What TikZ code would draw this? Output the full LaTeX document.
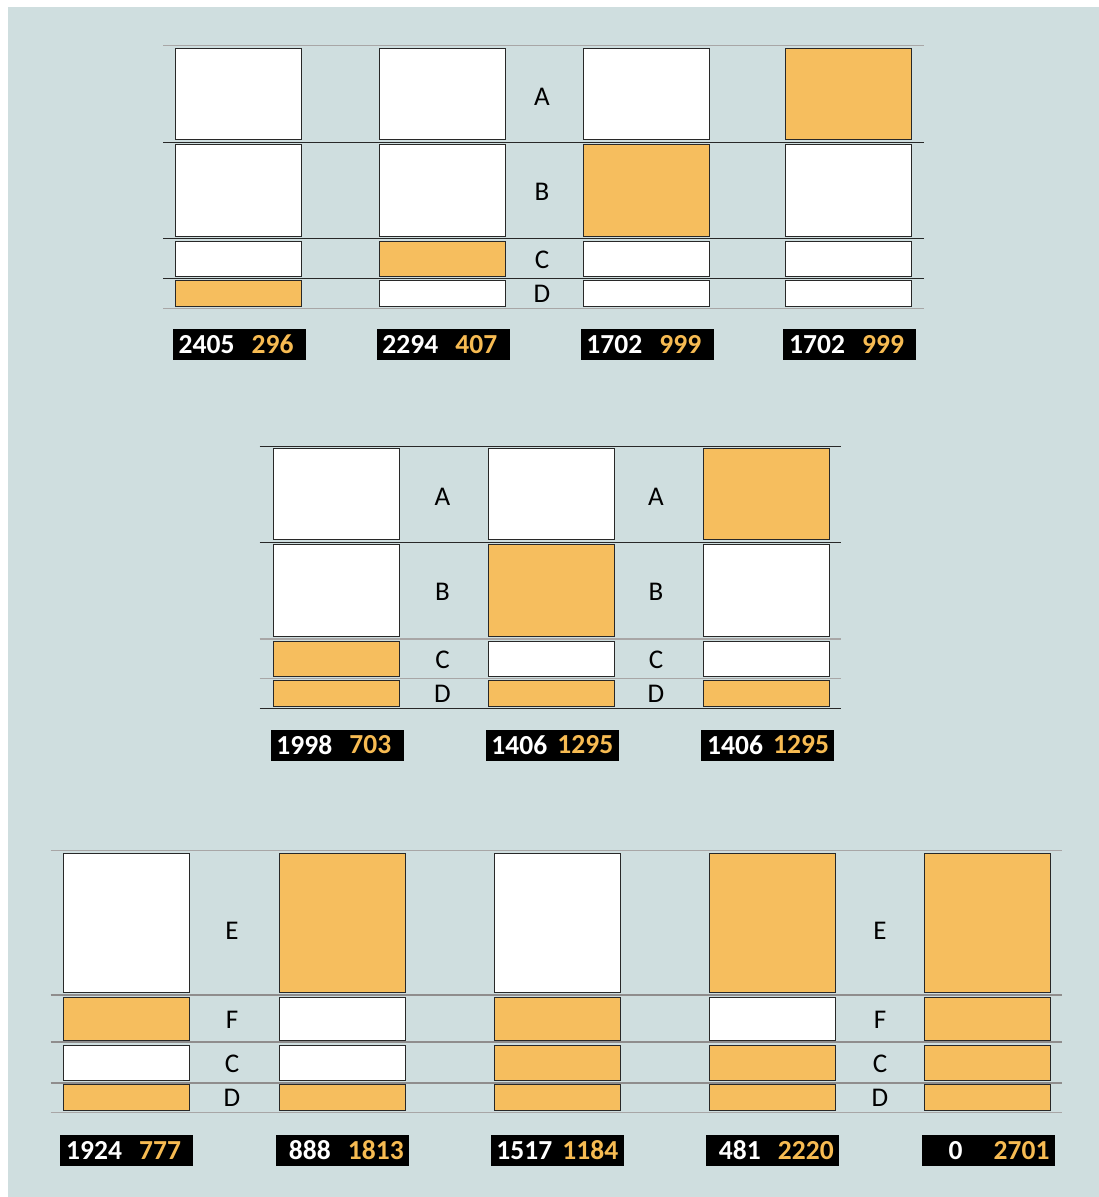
\documentclass[tikz,border=0pt]{standalone}
\usepackage{fontspec}
\setmainfont{Carlito}
\usepackage{tikz}
\usetikzlibrary{positioning}
\definecolor{panel}{RGB}{207, 222, 223}
\definecolor{amber}{RGB}{246, 190, 94}
\definecolor{ambertext}{RGB}{247, 187, 82}
\definecolor{edge}{RGB}{40, 40, 40}
\definecolor{rulegray}{RGB}{168, 166, 166}

\begin{document}
\begin{tikzpicture}[x=1pt, y=-1pt,
  cell/.style={rectangle, draw=edge, line width=1pt,
    minimum width=126pt, inner sep=0pt},
  wcell/.style={cell, fill=white},
  ocell/.style={cell, fill=amber},
  rowA/.style={minimum height=91pt},
  rowB/.style={minimum height=92pt},
  rowC/.style={minimum height=35pt},
  rowD/.style={minimum height=25.8pt},
  rowE/.style={minimum height=139pt},
  rowF/.style={minimum height=43pt},
  tag/.style={font=\fontsize{27pt}{29pt}\selectfont, inner sep=0pt},
  tally/.style={rectangle, fill=black, minimum width=133pt,
    minimum height=31pt, inner sep=0pt},
  wnum/.style={font=\fontsize{27.5pt}{29pt}\selectfont\bfseries,
    text=white, inner sep=0pt},
  onum/.style={wnum, text=ambertext},
  darkrule/.style={draw=edge, line width=1pt},
  greyrule/.style={draw=rulegray, line width=1.3pt},
  thickrule/.style={draw=rulegray!85!black, line width=1.8pt}
]
\useasboundingbox (0,0) rectangle (1099,1197);
\fill[white] (0,0) rectangle (1099,1197);
\fill[panel] (8,7) rectangle (1099,1197);

% top panel
\draw[greyrule] (163,45.7) -- (924,45.7);
\draw[darkrule] (163,142.7) -- (924,142.7);
\draw[darkrule] (163,238.7) -- (924,238.7);
\draw[darkrule] (163,278.3) -- (924,278.3);
\draw[greyrule] (163,308.3) -- (924,308.3);

\node[wcell, rowA] at (238.5, 94)    (t1a) {};
\node[wcell, rowB] at (238.5, 190.5) (t1b) {};
\node[wcell, rowC] at (238.5, 258.7) (t1c) {};
\node[ocell, rowD] at (238.5, 293.3) (t1d) {};
\node[wcell, rowA] at (442.8, 94)    (t2a) {};
\node[wcell, rowB] at (442.8, 190.5) (t2b) {};
\node[ocell, rowC] at (442.8, 258.7) (t2c) {};
\node[wcell, rowD] at (442.8, 293.3) (t2d) {};
\node[wcell, rowA] at (646, 94)      (t3a) {};
\node[ocell, rowB] at (646, 190.5)   (t3b) {};
\node[wcell, rowC] at (646, 258.7)   (t3c) {};
\node[wcell, rowD] at (646, 293.3)   (t3d) {};
\node[ocell, rowA] at (848.8, 94)    (t4a) {};
\node[wcell, rowB] at (848.8, 190.5) (t4b) {};
\node[wcell, rowC] at (848.8, 258.7) (t4c) {};
\node[wcell, rowD] at (848.8, 293.3) (t4d) {};

\node[tag] at (542, 97)    (tla) {A};
\node[tag] at (542, 191.5) (tlb) {B};
\node[tag] at (542, 260)   (tlc) {C};
\node[tag] at (542, 293.5) (tld) {D};

\node[tally] at (239.3, 344.5) (t1n) {};
\node[wnum] at ([xshift=34pt]t1n.west)  (t1w) {2405};
\node[onum] at ([xshift=100pt]t1n.west) (t1o) {296};
\node[tally] at (443, 344.5) (t2n) {};
\node[wnum] at ([xshift=34pt]t2n.west)  (t2w) {2294};
\node[onum] at ([xshift=100pt]t2n.west) (t2o) {407};
\node[tally] at (647, 344.5) (t3n) {};
\node[wnum] at ([xshift=34pt]t3n.west)  (t3w) {1702};
\node[onum] at ([xshift=100pt]t3n.west) (t3o) {999};
\node[tally] at (849.8, 344.5) (t4n) {};
\node[wnum] at ([xshift=34pt]t4n.west)  (t4w) {1702};
\node[onum] at ([xshift=100pt]t4n.west) (t4o) {999};

% middle panel
\draw[darkrule] (259.6,446) -- (841,446);
\draw[darkrule] (259.6,542.7) -- (841,542.7);
\draw[greyrule] (259.6,639) -- (841,639);
\draw[greyrule] (259.6,678.7) -- (841,678.7);
\draw[darkrule] (259.6,708.3) -- (841,708.3);

\node[wcell, rowA] at (336, 494)   (m1a) {};
\node[wcell, rowB] at (336, 590.5) (m1b) {};
\node[ocell, rowC] at (336, 658.7) (m1c) {};
\node[ocell, rowD] at (336, 693.3) (m1d) {};
\node[wcell, rowA] at (551.5, 494)   (m2a) {};
\node[ocell, rowB] at (551.5, 590.5) (m2b) {};
\node[wcell, rowC] at (551.5, 658.7) (m2c) {};
\node[ocell, rowD] at (551.5, 693.3) (m2d) {};
\node[ocell, rowA] at (766.3, 494)   (m3a) {};
\node[wcell, rowB] at (766.3, 590.5) (m3b) {};
\node[wcell, rowC] at (766.3, 658.7) (m3c) {};
\node[ocell, rowD] at (766.3, 693.3) (m3d) {};

\node[tag] at (442.5, 497)   (mla) {A};
\node[tag] at (442.5, 591.7) (mlb) {B};
\node[tag] at (442.5, 660)   (mlc) {C};
\node[tag] at (442.5, 694)   (mld) {D};
\node[tag] at (656, 497)     (mra) {A};
\node[tag] at (656, 591.7)   (mrb) {B};
\node[tag] at (656, 660)     (mrc) {C};
\node[tag] at (656, 694)     (mrd) {D};

\node[tally] at (337, 745) (m1n) {};
\node[wnum] at ([xshift=34pt]m1n.west)  (m1w) {1998};
\node[onum] at ([xshift=100pt]m1n.west) (m1o) {703};
\node[tally] at (552, 745) (m2n) {};
\node[wnum] at ([xshift=34pt]m2n.west)  (m2w) {1406};
\node[onum] at ([xshift=100pt]m2n.west) (m2o) {1295};
\node[tally] at (767.8, 745) (m3n) {};
\node[wnum] at ([xshift=34pt]m3n.west)  (m3w) {1406};
\node[onum] at ([xshift=100pt]m3n.west) (m3o) {1295};

% bottom panel
\draw[greyrule] (50.7,850.7) -- (1062.3,850.7);
\draw[thickrule] (50.7,994.7) -- (1062.3,994.7);
\draw[thickrule] (50.7,1042.3) -- (1062.3,1042.3);
\draw[thickrule] (50.7,1082.7) -- (1062.3,1082.7);
\draw[greyrule] (50.7,1112.3) -- (1062.3,1112.3);

\node[wcell, rowE] at (126.7, 922.7)  (b1e) {};
\node[ocell, rowF] at (126.7, 1018.7) (b1f) {};
\node[wcell, rowC] at (126.7, 1062.5) (b1c) {};
\node[ocell, rowD] at (126.7, 1097.5) (b1d) {};
\node[ocell, rowE] at (342, 922.7)    (b2e) {};
\node[wcell, rowF] at (342, 1018.7)   (b2f) {};
\node[wcell, rowC] at (342, 1062.5)   (b2c) {};
\node[ocell, rowD] at (342, 1097.5)   (b2d) {};
\node[wcell, rowE] at (557, 922.7)    (b3e) {};
\node[ocell, rowF] at (557, 1018.7)   (b3f) {};
\node[ocell, rowC] at (557, 1062.5)   (b3c) {};
\node[ocell, rowD] at (557, 1097.5)   (b3d) {};
\node[ocell, rowE] at (772.3, 922.7)  (b4e) {};
\node[wcell, rowF] at (772.3, 1018.7) (b4f) {};
\node[ocell, rowC] at (772.3, 1062.5) (b4c) {};
\node[ocell, rowD] at (772.3, 1097.5) (b4d) {};
\node[ocell, rowE] at (987.5, 922.7)  (b5e) {};
\node[ocell, rowF] at (987.5, 1018.7) (b5f) {};
\node[ocell, rowC] at (987.5, 1062.5) (b5c) {};
\node[ocell, rowD] at (987.5, 1097.5) (b5d) {};

\node[tag] at (232, 931)    (ble) {E};
\node[tag] at (232, 1020)   (blf) {F};
\node[tag] at (232, 1063.5) (blc) {C};
\node[tag] at (232, 1097.8) (bld) {D};
\node[tag] at (880, 931)    (bre) {E};
\node[tag] at (880, 1020)   (brf) {F};
\node[tag] at (880, 1063.5) (brc) {C};
\node[tag] at (880, 1097.8) (brd) {D};

\node[tally] at (126.8, 1150.3) (b1n) {};
\node[wnum] at ([xshift=34pt]b1n.west)  (b1w) {1924};
\node[onum] at ([xshift=100pt]b1n.west) (b1o) {777};
\node[tally] at (342.5, 1150.3) (b2n) {};
\node[wnum] at ([xshift=34pt]b2n.west)  (b2w) {888};
\node[onum] at ([xshift=100pt]b2n.west) (b2o) {1813};
\node[tally] at (557, 1150.3) (b3n) {};
\node[wnum] at ([xshift=34pt]b3n.west)  (b3w) {1517};
\node[onum] at ([xshift=100pt]b3n.west) (b3o) {1184};
\node[tally] at (772.5, 1150.3) (b4n) {};
\node[wnum] at ([xshift=34pt]b4n.west)  (b4w) {481};
\node[onum] at ([xshift=100pt]b4n.west) (b4o) {2220};
\node[tally] at (988.3, 1150.3) (b5n) {};
\node[wnum] at ([xshift=34pt]b5n.west)  (b5w) {0};
\node[onum] at ([xshift=100pt]b5n.west) (b5o) {2701};
\end{tikzpicture}
\end{document}
